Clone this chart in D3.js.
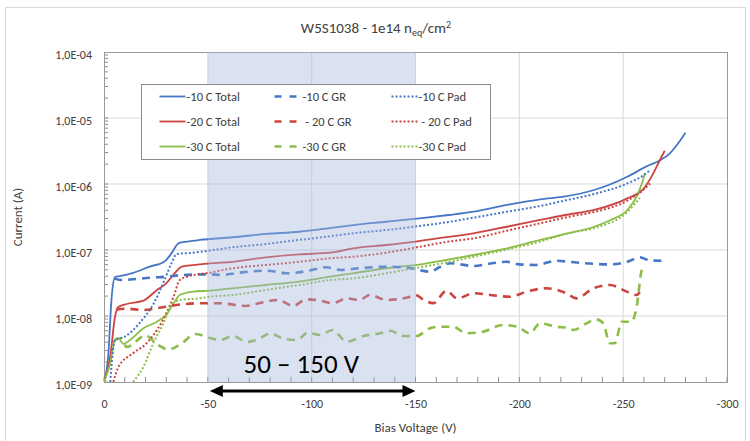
<!DOCTYPE html>
<html>
<head>
<meta charset="utf-8">
<script src="https://cdn.jsdelivr.net/npm/d3@7"></script>
<style>
  body { margin: 0; background: #fff; }
  text { font-family: Carlito, Calibri, "Liberation Sans Narrow", "Arial Narrow", Lato, sans-serif; fill: #404040; }
</style>
</head>
<body>
<div id="chart"></div>
<script>
// Measured series: [bias voltage (V), current (A)]
var total10 = [[0,1.0e-9],[-2,2.4e-9],[-3.7,1.94e-8],[-5.3,3.9e-8],[-8,4.04e-8],[-14,4.5e-8],[-22,5.6e-8],[-29,6.65e-8],[-32.5,8.9e-8],[-36,1.27e-7],[-40,1.34e-7],[-46,1.42e-7],[-62,1.56e-7],[-78,1.75e-7],[-94,1.89e-7],[-108,2.13e-7],[-120,2.39e-7],[-136,2.68e-7],[-152,3.02e-7],[-166,3.39e-7],[-178,3.8e-7],[-194,4.81e-7],[-210,5.87e-7],[-222,6.47e-7],[-236,8.11e-7],[-252,1.29e-6],[-261,1.83e-6],[-268,2.31e-6],[-272.5,2.92e-6],[-276.5,4.14e-6],[-280,5.99e-6]];
var gr10 = [[-5,3.72e-8],[-8,3.51e-8],[-14,3.6e-8],[-22,3.8e-8],[-30,3.94e-8],[-38,4.18e-8],[-51,4.28e-8],[-56,4.18e-8],[-65,4.53e-8],[-78,4.86e-8],[-88,4.44e-8],[-98,4.81e-8],[-107,5.47e-8],[-114,4.98e-8],[-123,5.29e-8],[-136,5.58e-8],[-146,5.4e-8],[-157,4.69e-8],[-162,5.58e-8],[-167,6.29e-8],[-178,5.72e-8],[-187,6.29e-8],[-194,6.63e-8],[-200,6.06e-8],[-208,5.93e-8],[-218,6.88e-8],[-224,6.63e-8],[-230,6.35e-8],[-244,6.06e-8],[-252,6.63e-8],[-258,7.75e-8],[-263,6.93e-8],[-269,6.88e-8]];
var pad10 = [[-3,1.0e-9],[-5.3,4.33e-9],[-10,4.86e-9],[-17,7.75e-9],[-24,1.56e-8],[-28.5,3.13e-8],[-32.5,6.29e-8],[-35,8.7e-8],[-43,9.1e-8],[-51,9.83e-8],[-62,1.1e-7],[-78,1.23e-7],[-94,1.42e-7],[-108,1.6e-7],[-120,1.79e-7],[-136,2.01e-7],[-152,2.31e-7],[-166,2.66e-7],[-178,3.09e-7],[-194,3.8e-7],[-210,4.64e-7],[-222,5.63e-7],[-236,7.06e-7],[-252,1.02e-6],[-260,1.37e-6],[-263,1.63e-6]];

var total20 = [[0,1.0e-9],[-3,2.42e-9],[-5.3,9.75e-9],[-7,1.38e-8],[-11,1.52e-8],[-19,1.71e-8],[-25.5,2.48e-8],[-30,3.13e-8],[-34,4.44e-8],[-37.5,5.58e-8],[-46,6.06e-8],[-51,6.29e-8],[-62,6.63e-8],[-78,7.75e-8],[-94,8.6e-8],[-109,9.1e-8],[-120,1.06e-7],[-136,1.19e-7],[-150,1.34e-7],[-164,1.55e-7],[-178,1.79e-7],[-194,2.25e-7],[-210,2.85e-7],[-222,3.39e-7],[-236,4.04e-7],[-252,6.06e-7],[-260,8.6e-7],[-264.5,1.45e-6],[-267.7,2.31e-6],[-270,3.19e-6]];
var gr20 = [[-6,1.26e-8],[-11,1.29e-8],[-19,1.23e-8],[-25.5,1.31e-8],[-35,1.47e-8],[-46,1.56e-8],[-56,1.56e-8],[-68,1.42e-8],[-78,1.65e-8],[-84,1.75e-8],[-91,1.42e-8],[-97.5,1.79e-8],[-104,1.71e-8],[-110,1.56e-8],[-117,1.85e-8],[-123,1.75e-8],[-128,2.08e-8],[-136,1.75e-8],[-146,1.9e-8],[-150,2.08e-8],[-154,1.75e-8],[-158.5,1.56e-8],[-165,2.42e-8],[-170,1.85e-8],[-178,2.21e-8],[-186,2.08e-8],[-195.5,1.96e-8],[-203.5,2.34e-8],[-213,2.63e-8],[-222.7,2.21e-8],[-227.6,1.85e-8],[-235.6,2.63e-8],[-243.6,2.95e-8],[-251.7,2.34e-8],[-256.5,2.08e-8],[-258,2.31e-8]];
var pad20 = [[-4.5,1.0e-9],[-7,1.71e-9],[-14,2.72e-9],[-20.5,3.86e-9],[-25.5,6.14e-9],[-30,1.1e-8],[-33.5,1.96e-8],[-36.5,3.51e-8],[-40,3.94e-8],[-51,4.53e-8],[-62,5.29e-8],[-78,5.93e-8],[-94,6.63e-8],[-109,7.49e-8],[-120,7.92e-8],[-136,9.1e-8],[-152,1.12e-7],[-166,1.34e-7],[-178,1.5e-7],[-194,1.96e-7],[-210,2.54e-7],[-224,3.19e-7],[-236,3.77e-7],[-252,5.58e-7],[-258,7.39e-7],[-263,1.02e-6]];

var total30 = [[0,1.0e-9],[-3,1.92e-9],[-5.3,4.33e-9],[-7,4.59e-9],[-9.3,3.77e-9],[-12.5,4.33e-9],[-19,6.52e-9],[-25.5,8.2e-9],[-30,1.04e-8],[-33.5,1.56e-8],[-36.5,2.08e-8],[-43,2.34e-8],[-51,2.42e-8],[-62,2.63e-8],[-78,2.95e-8],[-94,3.31e-8],[-109,3.94e-8],[-120,4.44e-8],[-136,5.29e-8],[-150.5,5.93e-8],[-166.6,7.24e-8],[-178,8.4e-8],[-194,1.06e-7],[-210,1.42e-7],[-222,1.75e-7],[-236,2.25e-7],[-244,2.85e-7],[-252,4.04e-7],[-256.5,6.42e-7],[-259,1.02e-6],[-260.5,1.45e-6]];
var gr30 = [[-5,4.33e-9],[-8,4.59e-9],[-11,3.39e-9],[-20,5.07e-9],[-26,3.64e-9],[-31,3.11e-9],[-37,3.77e-9],[-44,5.34e-9],[-51,4.64e-9],[-56,4.33e-9],[-62,4.98e-9],[-69,4.04e-9],[-75,4.59e-9],[-80,5.47e-9],[-86,4.59e-9],[-93,4.33e-9],[-98,5.58e-9],[-104,5.15e-9],[-110,6.14e-9],[-117,4.08e-9],[-125,4.98e-9],[-133,5.47e-9],[-138,5.99e-9],[-144,4.98e-9],[-150.5,4.98e-9],[-157,6.52e-9],[-162,6.88e-9],[-168,6.88e-9],[-174.6,5.47e-9],[-182.6,5.79e-9],[-192,7.3e-9],[-199,6.88e-9],[-205,5.47e-9],[-210,7.75e-9],[-218,6.88e-9],[-224.4,6.52e-9],[-226,6.14e-9],[-232.4,7.75e-9],[-237,8.9e-9],[-240.4,7.75e-9],[-243.6,3.86e-9],[-246,3.86e-9],[-249.3,8.2e-9],[-254,8.2e-9],[-256.5,1.38e-8],[-259,4.98e-8],[-259.7,5.29e-8]];
var pad30 = [[-14,1.0e-9],[-19,1.71e-9],[-23.7,3.86e-9],[-28.6,7.75e-9],[-32,1.38e-8],[-36.6,1.75e-8],[-46,1.85e-8],[-51,1.96e-8],[-62,2.08e-8],[-78,2.48e-8],[-94,2.95e-8],[-109,3.51e-8],[-120,3.72e-8],[-136,4.44e-8],[-152,5.47e-8],[-166.6,6.63e-8],[-178,7.92e-8],[-194,1.02e-7],[-210,1.34e-7],[-224,1.81e-7],[-236,2.15e-7],[-252,3.77e-7],[-258,6.14e-7]];

var xTickValues = [0, -50, -100, -150, -200, -250, -300];
var yTickValues = [1e-9, 1e-8, 1e-7, 1e-6, 1e-5, 1e-4];
var bandRange = [-50, -150];

var svgWidth = 750;
var svgHeight = 441;
var margin = { top: 52, right: 23, bottom: 59, left: 104 };
var width = svgWidth - margin.left - margin.right;
var height = svgHeight - margin.top - margin.bottom;

var blue = "#4677c6", red = "#cc4440", green = "#8cbd48";

var series = [
  { name: "-10 C Total", data: total10, color: blue, kind: "solid" },
  { name: "-20 C Total", data: total20, color: red, kind: "solid" },
  { name: "-30 C Total", data: total30, color: green, kind: "solid" },
  { name: "-10 C GR", data: gr10, color: blue, kind: "dash" },
  { name: " - 20 C GR", data: gr20, color: red, kind: "dash" },
  { name: "-30 C GR", data: gr30, color: green, kind: "dash" },
  { name: "-10 C Pad", data: pad10, color: blue, kind: "dot" },
  { name: " - 20 C Pad", data: pad20, color: red, kind: "dot" },
  { name: "-30 C Pad", data: pad30, color: green, kind: "dot" }
];
var styles = {
  solid: { width: 1.8, dash: null },
  dash: { width: 2.6, dash: "8,6" },
  dot: { width: 2, dash: "2,2" }
};

var svg = d3.select("#chart").append("svg")
  .attr("width", svgWidth)
  .attr("height", svgHeight);

svg.append("rect").attr("width", svgWidth).attr("height", svgHeight).attr("fill", "#fff");
// outer chart border
svg.append("rect")
  .attr("x", 5.5).attr("y", 7.5)
  .attr("width", 740).attr("height", 450)
  .attr("fill", "none").attr("stroke", "#d9d9d9");

var chartGroup = svg.append("g")
  .attr("transform", `translate(${margin.left}, ${margin.top})`);

var xLinearScale = d3.scaleLinear().domain([0, -300]).range([0, width]);
var yLogScale = d3.scaleLog().domain([1e-9, 1e-4]).range([height, 0]);

// gridlines
chartGroup.selectAll(".vgrid")
  .data(xTickValues.slice(1, -1))
  .enter().append("line")
  .attr("x1", d => xLinearScale(d)).attr("x2", d => xLinearScale(d))
  .attr("y1", 0).attr("y2", height)
  .attr("stroke", "#d9d9d9");
chartGroup.selectAll(".hgrid")
  .data(yTickValues.slice(1, -1))
  .enter().append("line")
  .attr("x1", 0).attr("x2", width)
  .attr("y1", d => yLogScale(d)).attr("y2", d => yLogScale(d))
  .attr("stroke", "#d9d9d9");

// minor ticks, pointing into the plot
var xMinor = d3.range(0, -301, -10);
chartGroup.selectAll(".xminor")
  .data(xMinor)
  .enter().append("line")
  .attr("x1", d => xLinearScale(d)).attr("x2", d => xLinearScale(d))
  .attr("y1", height).attr("y2", height - 5)
  .attr("stroke", "#8c8c8c");
var yMinor = [];
yTickValues.slice(0, -1).forEach(function(dec) {
  for (var m = 1; m < 10; m++) yMinor.push(dec * m);
});
chartGroup.selectAll(".yminor")
  .data(yMinor)
  .enter().append("line")
  .attr("x1", 0).attr("x2", 4)
  .attr("y1", d => yLogScale(d)).attr("y2", d => yLogScale(d))
  .attr("stroke", "#8c8c8c");

// plot frame
chartGroup.append("rect")
  .attr("x", 0.5).attr("y", 0.5)
  .attr("width", width).attr("height", height)
  .attr("fill", "none").attr("stroke", "#9a9a9a");

// axes labels via d3 axes
var bottomAxis = d3.axisBottom(xLinearScale)
  .tickValues(xTickValues)
  .tickSize(0).tickPadding(17)
  .tickFormat(d => String(d));
var xAxis = chartGroup.append("g")
  .attr("transform", `translate(0, ${height})`)
  .call(bottomAxis);

var leftAxis = d3.axisLeft(yLogScale)
  .tickValues(yTickValues)
  .tickSize(0).tickPadding(12)
  .tickFormat(d => "1,0E-" + String(Math.round(-Math.log10(d))).padStart(2, "0"));
var yAxis = chartGroup.append("g").call(leftAxis);

[xAxis, yAxis].forEach(function(ax) {
  ax.select(".domain").remove();
  ax.selectAll("text")
    .attr("fill", "#404040")
    .style("font-size", "12px")
    .style("font-family", null);
});
yAxis.selectAll("text").attr("dy", "0.55em");

// curves
chartGroup.append("clipPath").attr("id", "plotclip")
  .append("rect").attr("width", width).attr("height", height);

var line = d3.line()
  .x(d => xLinearScale(d[0]))
  .y(d => yLogScale(d[1]))
  .curve(d3.curveMonotoneX);

var lineGroup = chartGroup.append("g").attr("clip-path", "url(#plotclip)");
lineGroup.selectAll("path")
  .data(series)
  .enter().append("path")
  .attr("d", d => line(d.data))
  .attr("fill", "none")
  .attr("stroke", d => d.color)
  .attr("stroke-width", d => styles[d.kind].width)
  .attr("stroke-dasharray", d => styles[d.kind].dash);

// legend
var legend = svg.append("g").attr("transform", "translate(141.5, 84.5)");
legend.append("rect")
  .attr("width", 349).attr("height", 75)
  .attr("fill", "#fff").attr("stroke", "#8c8c8c");
var colX = [18, 133, 250];
var legendItems = legend.selectAll(".item")
  .data(series)
  .enter().append("g")
  .attr("transform", (d, i) => `translate(${colX[Math.floor(i / 3)]}, ${12 + (i % 3) * 25})`);
legendItems.append("line")
  .attr("x1", 0)
  .attr("x2", d => d.kind === "dash" ? 22 : 26)
  .attr("stroke", d => d.color)
  .attr("stroke-width", d => d.kind === "dash" ? 2.4 : styles[d.kind].width)
  .attr("stroke-dasharray", d => d.kind === "dash" ? "7,8" : styles[d.kind].dash);
legendItems.append("text")
  .attr("x", d => d.kind === "dash" ? 28 : 27)
  .attr("dy", "0.35em")
  .style("font-size", "12.5px")
  .style("white-space", "pre")
  .text(d => d.name);

// highlighted bias range, drawn over the chart like a translucent overlay
chartGroup.append("rect")
  .attr("x", xLinearScale(bandRange[0]))
  .attr("width", xLinearScale(bandRange[1]) - xLinearScale(bandRange[0]))
  .attr("y", 0).attr("height", height)
  .attr("fill", "#a3b7dc").attr("opacity", 0.4);

// arrow under the band
var ax1 = xLinearScale(bandRange[0]) + 2, ax2 = xLinearScale(bandRange[1]);
var ay = height + 9;
chartGroup.append("line")
  .attr("x1", ax1 + 10).attr("x2", ax2 - 10)
  .attr("y1", ay).attr("y2", ay)
  .attr("stroke", "#000").attr("stroke-width", 3);
chartGroup.append("path")
  .attr("d", `M${ax1},${ay} L${ax1 + 13},${ay - 6} L${ax1 + 13},${ay + 6} Z`)
  .attr("fill", "#000");
chartGroup.append("path")
  .attr("d", `M${ax2},${ay} L${ax2 - 13},${ay - 6} L${ax2 - 13},${ay + 6} Z`)
  .attr("fill", "#000");

chartGroup.append("text")
  .attr("x", xLinearScale(-95))
  .attr("y", height - 9)
  .attr("text-anchor", "middle")
  .style("font-size", "27px")
  .style("fill", "#000")
  .text("50 \u2013 150 V");

// title
var title = svg.append("text")
  .attr("x", 376).attr("y", 33)
  .attr("text-anchor", "middle")
  .style("font-size", "15px");
title.append("tspan").text("W5S1038 - 1e14 n");
title.append("tspan").attr("dy", 3).style("font-size", "10px").text("eq");
title.append("tspan").attr("dy", -3).text("/cm");
title.append("tspan").attr("dy", -5).style("font-size", "10px").text("2");

// axis titles
svg.append("text")
  .attr("x", margin.left + width / 2).attr("y", 432)
  .attr("text-anchor", "middle")
  .style("font-size", "13px")
  .text("Bias Voltage (V)");
svg.append("text")
  .attr("transform", "translate(22, 217) rotate(-90)")
  .attr("text-anchor", "middle")
  .style("font-size", "13px")
  .text("Current (A)");
</script>
</body>
</html>
